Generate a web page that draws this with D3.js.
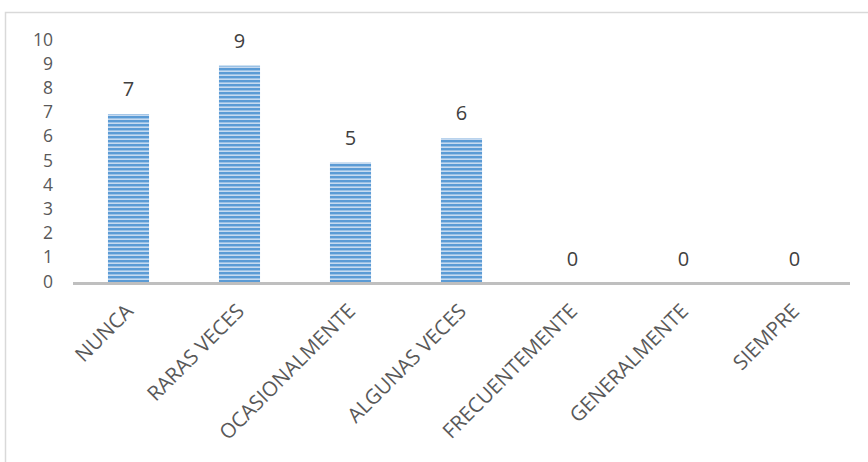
<!DOCTYPE html>
<html><head><meta charset="utf-8">
<script src="https://cdn.jsdelivr.net/npm/d3@7"></script>
<style>body{margin:0;background:#fff}svg{display:block}</style>
</head><body>
<script>
const categories = ["NUNCA","RARAS VECES","OCASIONALMENTE","ALGUNAS VECES","FRECUENTEMENTE","GENERALMENTE","SIEMPRE"];
const values = [7,9,5,6,0,0,0];
const yTicks = [0,1,2,3,4,5,6,7,8,9,10];

const W=868,H=462;
const svg=d3.select("body").append("svg").attr("width",W).attr("height",H);
const font="'Open Sans', Calibri, sans-serif";
const defs=svg.append("defs");
const pat=defs.append("pattern").attr("id","stripes").attr("patternUnits","userSpaceOnUse").attr("width",8).attr("height",4);
pat.append("rect").attr("width",8).attr("height",4).attr("fill","#c6daf0");
pat.append("rect").attr("width",8).attr("height",2.4).attr("fill","#5b9bd5");

svg.append("rect").attr("x",5.5).attr("y",12.5).attr("width",W).attr("height",H).attr("fill","none").attr("stroke","#d9d9d9").attr("stroke-width",1.5);

const x=d3.scaleBand().domain(categories).range([73,850]).paddingInner(0.63).paddingOuter(0.315);
const y=d3.scaleLinear().domain([0,10]).range([283.5,41.5]);

svg.append("g").selectAll("rect").data(values).join("rect")
 .attr("x",(d,i)=>x(categories[i])).attr("width",x.bandwidth())
 .attr("y",d=>y(d)).attr("height",d=>y(0)-y(d)).attr("fill","url(#stripes)");

svg.append("line").attr("x1",73).attr("x2",850).attr("y1",y(0)).attr("y2",y(0)).attr("stroke","#bfbfbf").attr("stroke-width",3);

const yAxis=d3.axisLeft(y).tickValues(yTicks).tickSize(0).tickPadding(0);
const ga=svg.append("g").attr("transform","translate(53,-2)").call(yAxis);
ga.select(".domain").remove();
ga.selectAll("text").attr("font-family",font).attr("font-size",17.5).attr("fill","#595959");

svg.append("g").selectAll("text").data(values).join("text")
 .attr("x",(d,i)=>x(categories[i])+x.bandwidth()/2).attr("y",d=>y(d)-18)
 .attr("text-anchor","middle").attr("font-family",font).attr("font-size",20).attr("fill","#404040")
 .text(d=>d);

const xa=d3.axisBottom(x).tickSize(0).tickPadding(0);
const gx=svg.append("g").attr("transform","translate(0,"+y(0)+")").call(xa);
gx.select(".domain").remove();
gx.selectAll("text").attr("font-family",font).attr("font-size",20.5).attr("fill","#595959")
 .attr("text-anchor","end").attr("dy",null).attr("y",0)
 .attr("transform","translate(6,29) rotate(-45)");
</script>
</body></html>
